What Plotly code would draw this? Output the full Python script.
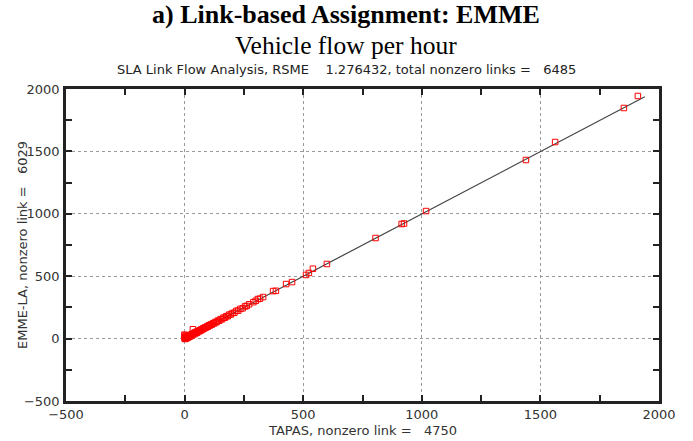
import plotly.graph_objects as go

# TAPAS link flow (x) vs EMME-LA link flow (y), vehicles per hour
tapas = [0, 0, 0, 0, 2, 3, 5, 6, 8, 10, 12, 14, 16, 18, 20, 22, 24, 26, 28, 30,
         33, 35, 36, 40, 42, 45, 48, 50, 53, 56, 60, 63, 66, 70, 74, 78, 82, 86, 90, 95,
         98, 102, 106, 110, 115, 120, 125, 130, 135, 140, 146, 152, 158, 164, 170, 176, 182, 188, 195, 202,
         210, 218, 226, 235, 245, 255, 262, 272, 290, 300, 309, 318, 331, 373, 385, 428, 453, 512, 524, 541,
         600, 805, 915, 925, 1018, 1439, 1562, 1852, 1911]
emme = [0, 12, 25, 32, 5, -3, 18, 2, 10, 4, 15, 8, 22, 14, 20, 26, 18, 30, 24, 35,
        28, 75, 38, 45, 36, 50, 44, 55, 48, 60, 58, 66, 62, 74, 70, 82, 80, 90, 88, 98,
        95, 106, 104, 113, 112, 124, 122, 133, 132, 144, 143, 156, 155, 168, 167, 180, 179, 192, 193, 205,
        207, 222, 224, 238, 243, 258, 262, 275, 292, 303, 317, 320, 333, 381, 383, 437, 453, 510, 526, 560,
        598, 806, 918, 922, 1022, 1431, 1575, 1848, 1944]

fit_x = [0, 1940]
fit_y = [0, 1938]

axis_ticks = [-500, 0, 500, 1000, 1500, 2000]
axis_range = [-500, 2000]

title1 = "a) Link-based Assignment: EMME"
title2 = "Vehicle flow per hour"
title3 = "SLA Link Flow Analysis, RSME\u00a0\u00a0\u00a0\u00a01.276432, total nonzero links =\u00a0\u00a0\u00a06485"
xlabel = "TAPAS, nonzero link =\u00a0\u00a0\u00a04750"
ylabel = "EMME-LA, nonzero link =\u00a0\u00a0\u00a06029"

fig = go.Figure()
fig.add_trace(go.Scatter(x=fit_x, y=fit_y, mode="lines",
                         line=dict(color="#444444", width=1.2), hoverinfo="skip"))
fig.add_trace(go.Scatter(x=tapas, y=emme, mode="markers",
                         marker=dict(symbol="square-open", size=5.5, color="#ff0000",
                                     line=dict(width=1, color="#ff0000"))))

tickfont = dict(family="DejaVu Sans", size=13, color="#333333")
axis_common = dict(
    range=axis_range, tickvals=axis_ticks, ticks="inside", ticklen=6, tickwidth=1.5,
    tickcolor="#222222", showline=True, linecolor="#222222", linewidth=2.5,
    mirror="allticks", showgrid=True, gridcolor="#9a9a9a", griddash="dot", gridwidth=1,
    zeroline=False, tickfont=tickfont,
    minor=dict(dtick=250, ticks="inside", ticklen=6, tickwidth=1.5, tickcolor="#222222",
               showgrid=False),
)

fig.update_layout(
    width=693, height=441,
    margin=dict(l=66, r=34, t=89, b=40, autoexpand=False),
    paper_bgcolor="white", plot_bgcolor="white",
    showlegend=False,
    xaxis=dict(**axis_common, tick0=-500),
    yaxis=dict(**axis_common, ticklabelstandoff=1),
    annotations=[
        dict(text="<b>" + title1 + "</b>", xref="paper", yref="paper", x=0.473, y=1,
             xanchor="center", yanchor="middle", yshift=75, showarrow=False,
             font=dict(family="Liberation Serif", size=26, color="black")),
        dict(text=title2, xref="paper", yref="paper", x=0.473, y=1,
             xanchor="center", yanchor="middle", yshift=44, showarrow=False,
             font=dict(family="Liberation Serif", size=25.5, color="black")),
        dict(text=title3, xref="paper", yref="paper", x=0.473, y=1,
             xanchor="center", yanchor="middle", yshift=20, showarrow=False,
             font=dict(family="DejaVu Sans", size=13, color="#222222")),
        dict(text=xlabel, xref="paper", yref="paper", x=0.5, y=0,
             xanchor="center", yanchor="middle", yshift=-29, showarrow=False,
             font=dict(family="DejaVu Sans", size=13, color="#333333")),
        dict(text=ylabel, xref="paper", yref="paper", x=0, y=0.5, textangle=-90,
             xanchor="center", yanchor="middle", xshift=-44, showarrow=False,
             font=dict(family="DejaVu Sans", size=13, color="#333333")),
    ],
)

fig.write_html("out.html", config={"displayModeBar": False},
               post_script="document.body.style.margin='0';")
